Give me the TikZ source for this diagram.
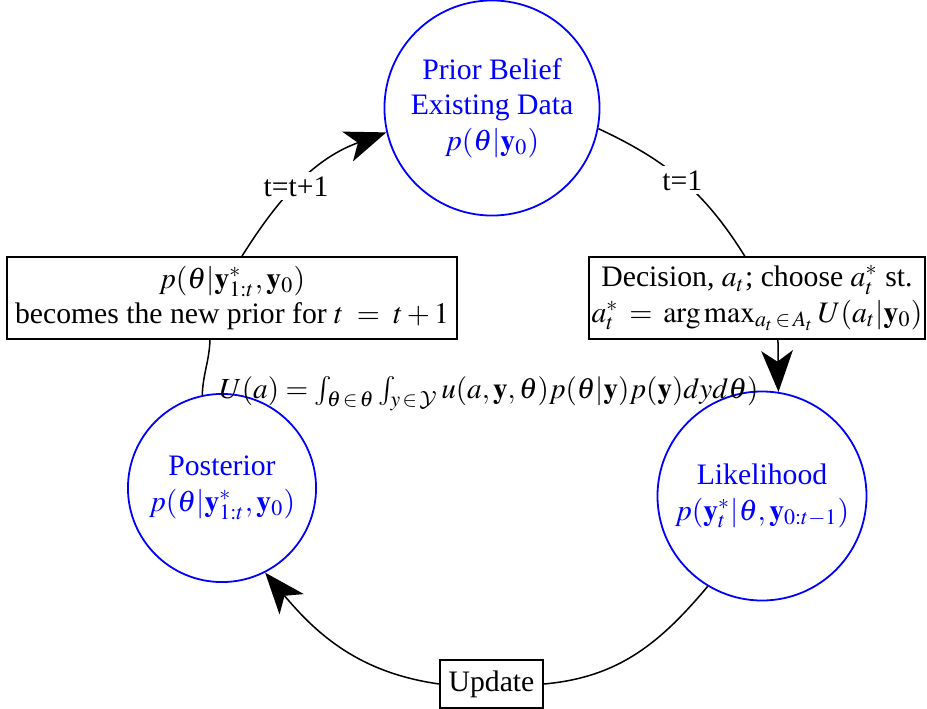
\documentclass[tikz,border=0pt]{standalone}
\usepackage{mathptmx}
\DeclareMathAlphabet{\mathcal}{OMS}{cmsy}{m}{n}
\usepackage[no-math]{fontspec}
\setmainfont{Liberation Serif}
\usetikzlibrary{arrows.meta}
\tikzset{
  every node/.style={font=\fontsize{10.8}{12.9}\selectfont},
  state/.style={circle,draw=blue,text=blue,line width=0.65pt,align=center,inner sep=0pt},
  infobox/.style={draw,line width=0.5pt,align=center,inner sep=0pt,fill=white},
  lbl/.style={fill=white,inner sep=1.5pt},
  conn/.style={line width=0.55pt},
  arr/.style={conn,-{Stealth[length=15pt,width=11.5pt,inset=4pt]}}
}
\begin{document}
\begin{tikzpicture}[x=0.3636pt,y=-0.3636pt]
\useasboundingbox (0,0) rectangle (927,709);
\node[state,minimum size=78.2pt] (prior) at (492,108) {Prior Belief\\Existing Data\\$p(\theta|\mathbf{y}_0)$};
\node[state,minimum size=76pt] (lik) at (762,496) {Likelihood\\$p(\mathbf{y}_t^*|\theta,\mathbf{y}_{0:t-1})$};
\node[state,minimum size=68.4pt] (post) at (222,488) {Posterior\\$p(\theta|\mathbf{y}^*_{1:t},\mathbf{y}_0)$};
\node[infobox,minimum width=163.6pt,minimum height=29.8pt] (lbox) at (232,298) {$p(\theta|\mathbf{y}^*_{1:t},\mathbf{y}_0)$\\becomes the new prior for $t\;=\;t+1$};
\node[infobox,minimum width=122.2pt,minimum height=29.8pt] (rbox) at (757,298) {Decision, $a_t$; choose $a_t^*$ st.\\$a_t^*\:=\:\arg\max_{a_t\,\in\,A_t} U(a_t|\mathbf{y}_0)$};
\node[infobox,minimum width=37.5pt,minimum height=17.5pt] (upd) at (491.5,684) {Update};
\node[font=\fontsize{10.6}{12.7}\selectfont] (util) at (489,394) {$U(a)=\int_{\theta\,\in\,\theta}\int_{y\,\in\,\mathcal{Y}} u(a,\mathbf{y},\theta)p(\theta|\mathbf{y})p(\mathbf{y})dyd\theta)$};
\coordinate (rtop) at ([xshift=-4.4pt]rbox.north);
\coordinate (rbot) at ([xshift=7.6pt]rbox.south);
\coordinate (ltop) at ([xshift=3.6pt]lbox.north);
\coordinate (lbot) at ([xshift=-8pt]lbox.south);
\draw[conn] (prior.-11) to[out=-25,in=122] node[lbl,pos=0.5]{t=1} (rtop);
\draw[arr] (rbot) to[out=-88,in=92] (lik.81);
\draw[conn] (lik.-121) to[out=-130,in=5] (upd.east);
\draw[arr] (upd.west) to[out=172,in=-50] (post.-63);
\draw[conn] (post.102) to[out=88,in=-92] (lbot);
\draw[arr] (ltop) to[out=58,in=200] node[lbl,pos=0.45]{t=t+1} (prior.193);
\end{tikzpicture}
\end{document}
